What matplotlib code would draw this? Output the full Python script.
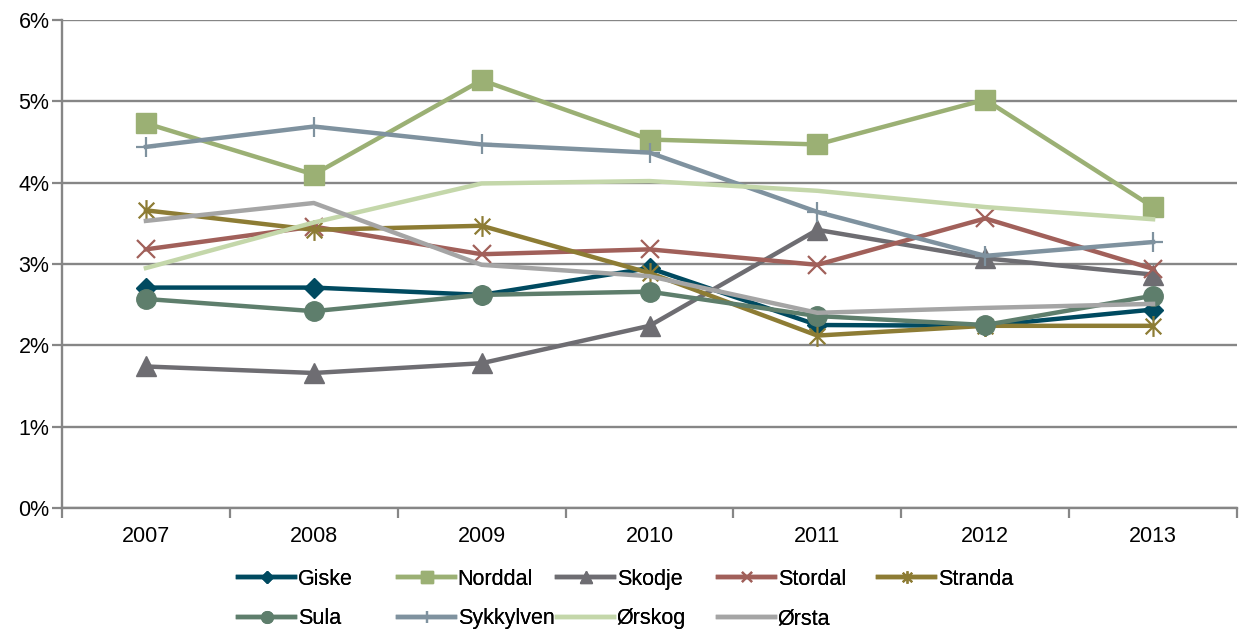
import matplotlib.pyplot as plt
from matplotlib.path import Path

plt.rcParams['font.family'] = ['Liberation Sans', 'DejaVu Sans']

years = ['2007', '2008', '2009', '2010', '2011', '2012', '2013']

giske = [2.71, 2.71, 2.62, 2.95, 2.25, 2.24, 2.44]
norddal = [4.73, 4.10, 5.26, 4.53, 4.47, 5.02, 3.70]
skodje = [1.74, 1.66, 1.78, 2.24, 3.42, 3.07, 2.87]
stordal = [3.18, 3.46, 3.12, 3.18, 2.99, 3.56, 2.94]
stranda = [3.66, 3.42, 3.47, 2.89, 2.12, 2.24, 2.24]
sula = [2.57, 2.42, 2.62, 2.66, 2.36, 2.25, 2.61]
sykkylven = [4.44, 4.69, 4.47, 4.37, 3.64, 3.10, 3.27]
orskog = [2.95, 3.51, 3.99, 4.02, 3.90, 3.70, 3.55]
orsta = [3.53, 3.75, 2.99, 2.85, 2.40, 2.46, 2.51]

# Excel-style asterisk: vertical bar plus an x
star = Path([(0, -1), (0, 1), (-0.75, -0.75), (0.75, 0.75), (-0.75, 0.75), (0.75, -0.75)],
            [Path.MOVETO, Path.LINETO, Path.MOVETO, Path.LINETO, Path.MOVETO, Path.LINETO])

series = [
    ('Giske', giske, '#004A60', 'D', 10, 1.0),
    ('Norddal', norddal, '#9BB074', 's', 14, 1.0),
    ('Skodje', skodje, '#6E6D72', '^', 14, 1.0),
    ('Stordal', stordal, '#A1605A', 'x', 13, 1.6),
    ('Stranda', stranda, '#8D7C34', star, 15, 1.6),
    ('Sula', sula, '#5E7E6C', 'o', 14, 1.0),
    ('Sykkylven', sykkylven, '#7F929F', '+', 15, 1.6),
    ('Ørskog', orskog, '#C4D7AA', None, 0, 1.0),
    ('Ørsta', orsta, '#A5A5A5', None, 0, 1.0),
]

fs = 15.5

fig = plt.figure(figsize=(12.48, 6.37), dpi=100)
ax = fig.add_axes([62 / 1248, 129 / 637, 1175 / 1248, 488 / 637])

x = list(range(len(years)))
handles = {}
for name, vals, color, marker, ms, mew in series:
    line, = ax.plot(x, vals, color=color, lw=3.2, marker=marker, ms=ms,
                    mew=mew, mec=color, mfc=color, label=name)
    handles[name] = line

grid_c = '#868686'
ax.set_xlim(-0.5, 6.5)
ax.set_ylim(0, 6)
ax.set_yticks(range(7))
ax.set_yticklabels([f'{i}%' for i in range(7)])
ax.set_xticks(x)
ax.set_xticklabels(years)
ax.set_xticks([i - 0.5 for i in range(len(years) + 1)], minor=True)
ax.tick_params(axis='x', which='major', length=0, pad=13, labelsize=fs)
ax.tick_params(axis='x', which='minor', length=7, width=1.6, color=grid_c)
ax.tick_params(axis='y', length=7, width=1.6, color=grid_c, labelsize=fs, pad=2)
ax.grid(axis='y', color=grid_c, lw=1.7)
ax.set_axisbelow(True)
for side in ('top', 'right'):
    ax.spines[side].set_visible(False)
for side in ('left', 'bottom'):
    ax.spines[side].set_color(grid_c)
    ax.spines[side].set_linewidth(1.7)

# legend laid out as five fixed-width columns under the chart
columns = [['Giske', 'Sula'], ['Norddal', 'Sykkylven'], ['Skodje', 'Ørskog'],
           ['Stordal', 'Ørsta'], ['Stranda']]
col_x = [238, 398, 557, 718, 878]
for names, cx in zip(columns, col_x):
    leg = fig.legend([handles[n] for n in names], names, loc='upper left',
                     bbox_to_anchor=(cx / 1248, 1 - 569 / 637), frameon=False,
                     fontsize=fs, handlelength=2.65, handletextpad=0.12,
                     labelspacing=0.85, borderpad=0, borderaxespad=0,
                     markerscale=0.6)
    fig.add_artist(leg)

fig.savefig('out.png', dpi=100)
